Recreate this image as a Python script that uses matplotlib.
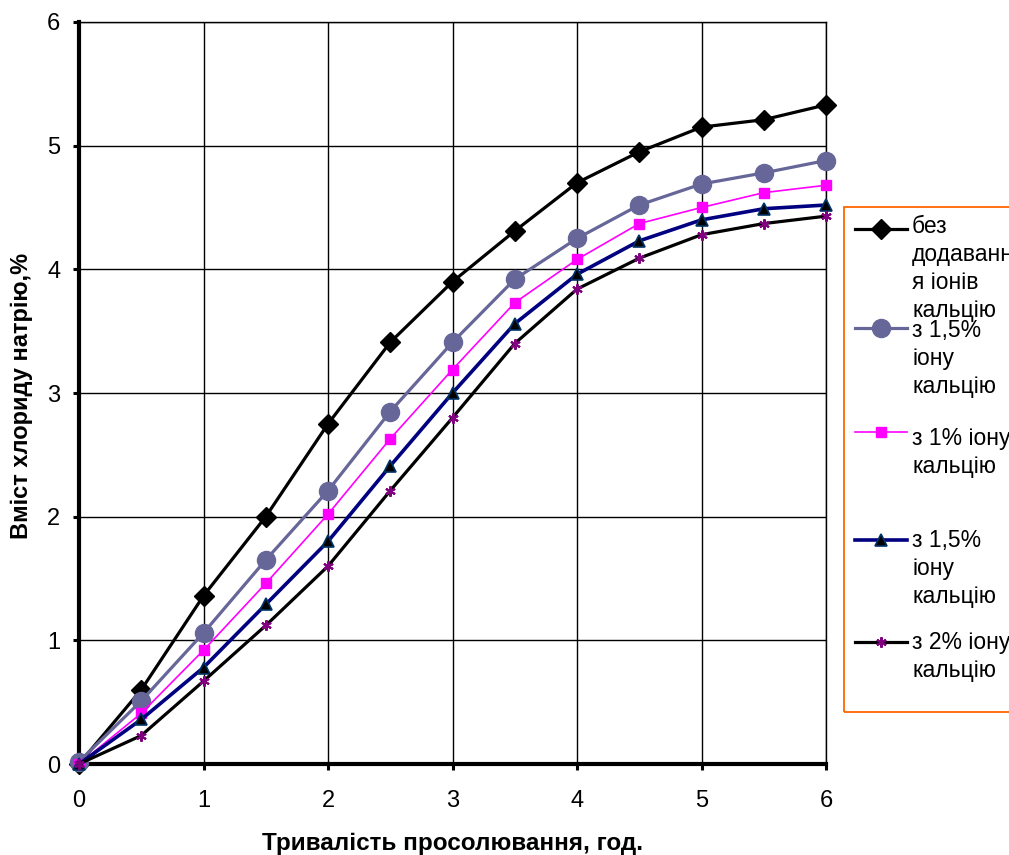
import matplotlib
matplotlib.use("Agg")
import matplotlib.pyplot as plt
from matplotlib.lines import Line2D
from matplotlib.patches import Rectangle

plt.rcParams['font.family'] = ['Liberation Sans', 'DejaVu Sans']

# дані
hours = [0, 0.5, 1, 1.5, 2, 2.5, 3, 3.5, 4, 4.5, 5, 5.5, 6]
bez_ca = [0.0, 0.60, 1.36, 2.00, 2.75, 3.41, 3.90, 4.31, 4.70, 4.95, 5.15, 5.21, 5.33]
ca_15a = [0.02, 0.51, 1.06, 1.65, 2.21, 2.85, 3.41, 3.92, 4.25, 4.52, 4.69, 4.78, 4.88]
ca_1 = [0.0, 0.41, 0.92, 1.46, 2.02, 2.63, 3.19, 3.73, 4.08, 4.37, 4.50, 4.62, 4.68]
ca_15b = [0.0, 0.36, 0.78, 1.29, 1.80, 2.41, 3.00, 3.56, 3.96, 4.23, 4.40, 4.49, 4.52]
ca_2 = [0.0, 0.23, 0.67, 1.12, 1.60, 2.21, 2.80, 3.40, 3.84, 4.09, 4.28, 4.37, 4.43]

labels = [
    "без\nдодаванн\nя іонів\nкальцію",
    "з 1,5%\nіону\nкальцію",
    "з 1% іону\nкальцію",
    "з 1,5%\nіону\nкальцію",
    "з 2% іону\nкальцію",
]

styles = [
    dict(color='black', lw=2.3, marker='D', ms=10, mfc='black', mec='black'),
    dict(color='#666699', lw=2.3, marker='o', ms=13, mfc='#666699', mec='#666699'),
    dict(color='#FF00FF', lw=1.2, marker='s', ms=7.5, mfc='#FF00FF', mec='#FF00FF'),
    dict(color='#000080', lw=2.6, marker='^', ms=9, mfc='black', mec='#003366', mew=1.2),
    dict(color='black', lw=2.3, marker=(6, 2, 0), ms=7.5, mfc='#800080', mec='#800080', mew=1.5),
]

series = [bez_ca, ca_15a, ca_1, ca_15b, ca_2]

fig = plt.figure(figsize=(10.09, 8.55), dpi=100)
ax = fig.add_axes([79/1009, 1-764/855, (826-79)/1009, (764-22)/855])

for y, st in zip(series, styles):
    ax.plot(hours, y, clip_on=False, zorder=3, **st)

ax.set_xlim(0, 6)
ax.set_ylim(0, 6)
ax.set_xticks(range(0, 7))
ax.set_yticks(range(0, 7))
ax.grid(True, color='black', lw=1.0)
ax.set_axisbelow(True)

for s in ['left', 'bottom']:
    ax.spines[s].set_linewidth(3)
for s in ['top', 'right']:
    ax.spines[s].set_linewidth(1)
ax.tick_params(axis='both', direction='out', length=4.5, width=2.2, labelsize=17)
ax.tick_params(axis='x', pad=14)
ax.tick_params(axis='y', pad=9)

fig.text(452/1009, 1-843/855, "Тривалість просолювання, год.", fontsize=17.5,
         fontweight='bold', ha='center', va='center')
fig.text(22/1009, 1-396/855, "Вміст хлориду натрію,%", rotation=90, fontsize=17,
         fontweight='bold', ha='center', va='center')

# легенда вручну
fig.patches.append(Rectangle((844/1009, 1-712/855), 200/1009, (712-207)/855,
                             transform=fig.transFigure, fill=False, edgecolor='#FF6600', lw=1.3))
handle_y = [229, 328, 432, 540, 642]
text_y = [233, 337, 445, 547, 649]
for st, lab, hy, ty in zip(styles, labels, handle_y, text_y):
    ln = Line2D([855/1009, 907/1009], [1-hy/855, 1-hy/855], transform=fig.transFigure,
                color=st['color'], lw=st['lw'])
    fig.lines.append(ln)
    mk = Line2D([881/1009], [1-hy/855], transform=fig.transFigure, linestyle='none',
                **{k: v for k, v in st.items() if k not in ('color', 'lw')})
    fig.lines.append(mk)
    for i, line in enumerate(lab.split("\n")):
        fig.text(912/1009, 1-(ty + i*28)/855, line, fontsize=16.5, ha='left', va='baseline')

fig.savefig("out.png", dpi=100)
